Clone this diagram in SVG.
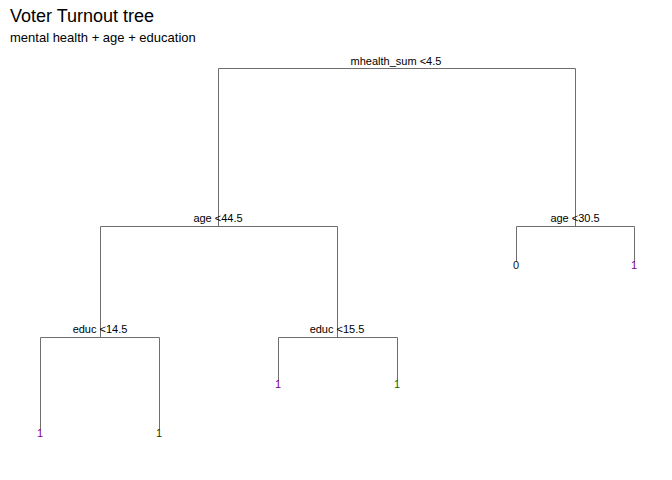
<svg xmlns="http://www.w3.org/2000/svg" width="672" height="480" viewBox="0 0 672 480">
<style>
text{font-family:"Liberation Sans",Arial,sans-serif}
.t{font-size:18px;fill:#000}
.s{font-size:13px;fill:#000}
.l{font-size:11px;fill:#000;text-anchor:middle}
.lf{font-size:11px;text-anchor:middle}
.e{stroke:#6e6e6e;stroke-width:1;fill:none}
</style>
<rect width="672" height="480" fill="#fff"/>
<text class="t" x="10" y="22">Voter Turnout tree</text>
<text class="s" x="10" y="42">mental health + age + education</text>
<g id="connectors">
<path class="e" d="M218.5,226 V68.5 H575.5 V226"/>
<path class="e" d="M100.5,337 V226.5 H337.5 V337"/>
<path class="e" d="M516.5,262 V226.5 H634.5 V262"/>
<path class="e" d="M40.5,430 V337.5 H159.5 V430"/>
<path class="e" d="M278.5,381 V337.5 H397.5 V381"/>
</g>
<g id="n-root"><text class="l" x="396" y="65">mhealth_sum &lt;4.5</text></g>
<g id="n-age1"><text class="l" x="218" y="222">age &lt;44.5</text></g>
<g id="n-age2"><text class="l" x="575" y="222">age &lt;30.5</text></g>
<g id="n-educ1"><text class="l" x="100" y="333">educ &lt;14.5</text></g>
<g id="n-educ2"><text class="l" x="337" y="333">educ &lt;15.5</text></g>
<g id="leaf-a"><text class="lf" x="516" y="269" fill="#111111">0</text></g>
<g id="leaf-b"><text class="lf" x="634" y="269" fill="#800080">1</text></g>
<g id="leaf-c"><text class="lf" x="40" y="437" fill="#800080">1</text></g>
<g id="leaf-d"><text class="lf" x="159" y="437" fill="#0b3d0b">1</text></g>
<g id="leaf-e"><text class="lf" x="278" y="388" fill="#800080">1</text></g>
<g id="leaf-f"><text class="lf" x="397" y="388" fill="#0a6a0a">1</text></g>
</svg>
